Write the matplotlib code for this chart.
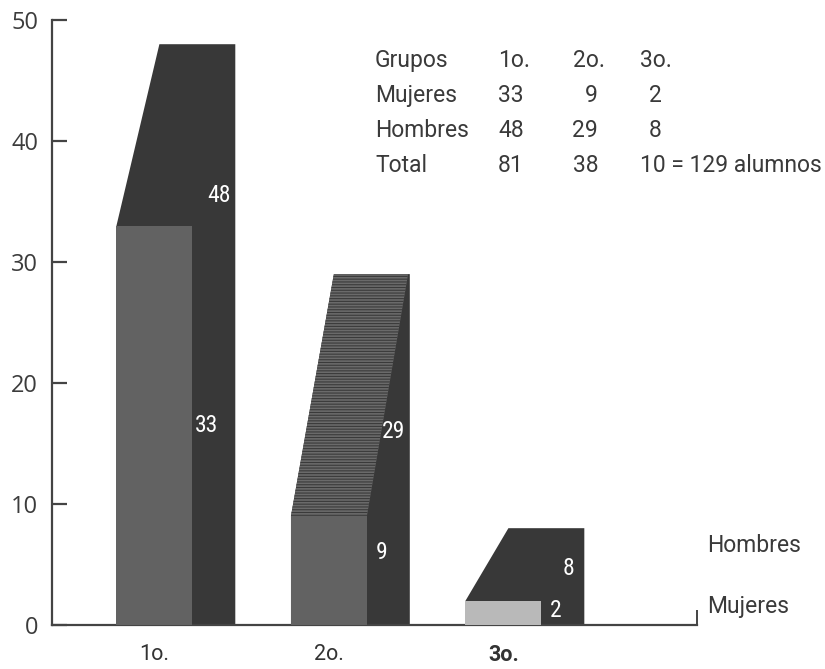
import matplotlib
matplotlib.use("Agg")
import matplotlib.pyplot as plt
from matplotlib import font_manager
from matplotlib.patches import Polygon, Rectangle

# datos
grupos = ["1o.", "2o.", "3o."]
mujeres = [33, 9, 2]
hombres = [48, 29, 8]
total = [81, 38, 10]

# posiciones de las etiquetas dentro de las barras
pos_etiq_m = [16.5, 6.0, 1.2]
pos_etiq_h = [35.5, 16.0, 4.7]

oscuro = "#383838"
gris_m = ["#626262", "#626262", "#b9b9b9"]
eje = "#444444"

# fuente angosta si la hay
hay = {f.name for f in font_manager.fontManager.ttflist}
angosta = "DejaVu Sans"
for n in ["Roboto Condensed", "Archivo Narrow", "PT Sans Narrow", "Liberation Sans Narrow", "Roboto"]:
    if n in hay:
        angosta = n
        break
narrow = [angosta, "DejaVu Sans"]
texto = ["Roboto", "DejaVu Sans"]

plt.rcParams["hatch.linewidth"] = 0.8
plt.rcParams["hatch.color"] = "#3a3a3a"

fig = plt.figure(figsize=(8.25, 6.69), dpi=100)
ax = fig.add_axes([0.063, 0.0658, 0.7818, 0.9043])

ancho = 0.435
prof = 0.246
xs = [1, 2, 3]

for i, x in enumerate(xs):
    L = x - ancho / 2
    R = x + ancho / 2
    m = mujeres[i]
    h = hombres[i]
    # barra de hombres (atras, con perspectiva)
    ax.add_patch(Polygon([(L, 0), (L, m), (L + prof, h), (R + prof, h), (R + prof, 0)],
                         closed=True, facecolor=oscuro, edgecolor="none", zorder=2))
    # cara rayada del 2o
    if i == 1:
        ax.add_patch(Polygon([(L, m), (L + prof, h), (R + prof - 0.01, h), (R, m)],
                             closed=True, facecolor="#6a6a6a", edgecolor="#3a3a3a",
                             linewidth=0, hatch="-" * 6, zorder=3))
    # barra de mujeres (frente)
    ax.add_patch(Rectangle((L, 0), ancho, m, facecolor=gris_m[i], edgecolor="none", zorder=4))
    # etiquetas
    ax.text(R + prof / 2 - 0.04, pos_etiq_m[i], str(m), color="white", fontsize=17,
            family=narrow, ha="center", va="center", zorder=5)
    ax.text(R + prof / 2 + 0.03, pos_etiq_h[i], str(h), color="white", fontsize=17,
            family=narrow, ha="center", va="center", zorder=5)

ax.set_xlim(0.413, 4.109)
ax.set_ylim(0, 50)

for s in ["top", "right"]:
    ax.spines[s].set_visible(False)
for s in ["left", "bottom"]:
    ax.spines[s].set_linewidth(1.6)
    ax.spines[s].set_color(eje)

ax.set_yticks([0, 10, 20, 30, 40, 50])
ax.tick_params(axis="y", direction="in", length=11, width=1.6, color=eje,
               labelsize=17, labelcolor="#3c3c3c", pad=10)
for t in ax.get_yticklabels():
    t.set_family("Open Sans")

ax.set_xticks(xs)
ax.set_xticklabels(grupos, family=texto, fontsize=15.5, color="#333333")
ax.get_xticklabels()[2].set_fontweight("bold")
ax.tick_params(axis="x", length=0, pad=14)
ax.set_xticks([4.109], minor=True)
ax.tick_params(axis="x", which="minor", direction="in", length=11, width=1.4, color=eje)

kw = dict(family=texto, fontsize=16.5, color="#3a3a3a", va="center")

# leyenda como texto
ax.text(4.17, 6.6, "Hombres", clip_on=False, **kw)
ax.text(4.17, 1.5, "Mujeres", clip_on=False, **kw)

# tabla de datos
filas = [
    ["Grupos"] + grupos,
    ["Mujeres"] + [str(v) for v in mujeres],
    ["Hombres"] + [str(v) for v in hombres],
    ["Total"] + [str(v) for v in total],
]
ys_px = [60.5, 95.5, 130.5, 165.5]
for fila, yp in zip(filas, ys_px):
    yf = 1 - yp / 669
    fig.text(375 / 825, yf, fila[0], **kw)
    fig.text(498 / 825, yf, fila[1], **kw)
    if fila[0] == "Grupos":
        fig.text(573 / 825, yf, fila[2], **kw)
        fig.text(640 / 825, yf, fila[3], **kw)
    elif fila[0] == "Total":
        fig.text(573 / 825, yf, fila[2], **kw)
        fig.text(640 / 825, yf, fila[3] + " = " + str(sum(total)) + " alumnos", **kw)
    else:
        fig.text(598 / 825, yf, fila[2], ha="right", **kw)
        fig.text(662 / 825, yf, fila[3], ha="right", **kw)

fig.savefig("out.png", dpi=100)
